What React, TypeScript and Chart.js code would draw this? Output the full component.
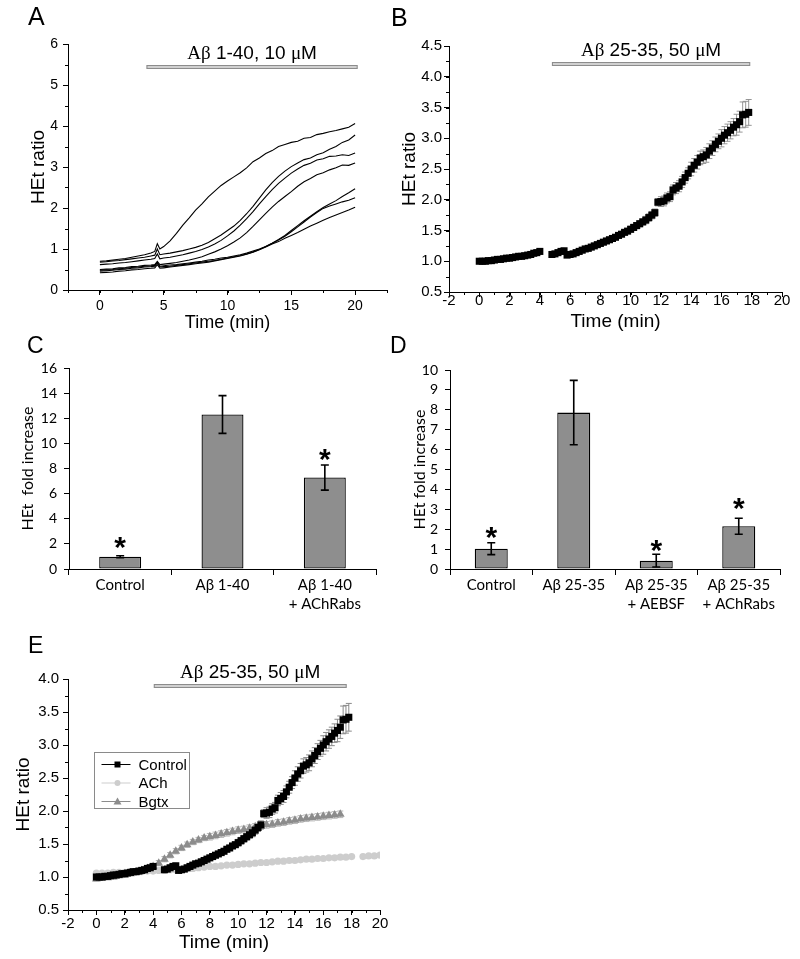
import React, { useEffect, useRef } from 'react';
import { Chart, registerables } from 'chart.js';

Chart.register(...registerables);

const SANS = '"Liberation Sans", Arial, sans-serif';
const SERIF = '"Liberation Serif", "Times New Roman", serif';
const CAL = 'Lato, "Liberation Sans", sans-serif';
Chart.defaults.font.family = SANS;
Chart.defaults.color = '#000';

// ---------------- Panel A data ----------------
const tA = [0, 0.5, 1, 1.5, 2, 2.5, 3, 3.5, 4, 4.3, 4.5, 4.7, 5, 5.5, 6, 6.5, 7, 7.5, 8, 8.5, 9, 9.5, 10, 10.5, 11, 11.5, 12, 12.5, 13, 13.5, 14, 14.5, 15, 15.5, 16, 16.5, 17, 17.5, 18, 18.5, 19, 19.5, 20];
const a1 = [0.70, 0.71, 0.73, 0.75, 0.77, 0.80, 0.83, 0.86, 0.90, 0.94, 1.13, 1.00, 1.06, 1.20, 1.38, 1.58, 1.76, 1.95, 2.10, 2.27, 2.41, 2.55, 2.66, 2.76, 2.86, 2.98, 3.13, 3.22, 3.33, 3.40, 3.50, 3.55, 3.60, 3.63, 3.70, 3.72, 3.79, 3.82, 3.86, 3.89, 3.93, 3.97, 4.06];
const a2 = [0.68, 0.69, 0.71, 0.72, 0.74, 0.76, 0.78, 0.80, 0.83, 0.85, 1.00, 0.86, 0.88, 0.90, 0.93, 0.96, 1.00, 1.04, 1.09, 1.16, 1.25, 1.34, 1.45, 1.56, 1.70, 1.86, 2.04, 2.24, 2.44, 2.62, 2.77, 2.90, 3.01, 3.10, 3.18, 3.22, 3.30, 3.35, 3.43, 3.50, 3.60, 3.66, 3.78];
const a3 = [0.62, 0.63, 0.64, 0.66, 0.67, 0.69, 0.71, 0.73, 0.75, 0.77, 0.88, 0.76, 0.78, 0.80, 0.83, 0.86, 0.90, 0.94, 0.99, 1.05, 1.12, 1.21, 1.32, 1.44, 1.58, 1.74, 1.91, 2.10, 2.28, 2.45, 2.60, 2.73, 2.85, 2.95, 3.04, 3.09, 3.17, 3.20, 3.26, 3.27, 3.30, 3.28, 3.34];
const a4 = [0.50, 0.51, 0.52, 0.54, 0.55, 0.57, 0.58, 0.60, 0.61, 0.62, 0.70, 0.62, 0.63, 0.65, 0.67, 0.70, 0.73, 0.77, 0.81, 0.87, 0.93, 1.00, 1.08, 1.17, 1.27, 1.40, 1.55, 1.71, 1.87, 2.02, 2.16, 2.28, 2.40, 2.53, 2.64, 2.72, 2.81, 2.86, 2.93, 2.98, 3.05, 3.04, 3.10];
const a5 = [0.48, 0.49, 0.50, 0.52, 0.53, 0.55, 0.56, 0.58, 0.59, 0.60, 0.68, 0.58, 0.59, 0.61, 0.62, 0.64, 0.66, 0.68, 0.70, 0.73, 0.75, 0.78, 0.80, 0.83, 0.86, 0.90, 0.95, 1.00, 1.06, 1.14, 1.23, 1.33, 1.45, 1.57, 1.69, 1.80, 1.91, 2.01, 2.10, 2.18, 2.28, 2.37, 2.47];
const a6 = [0.46, 0.47, 0.48, 0.50, 0.51, 0.53, 0.54, 0.56, 0.57, 0.58, 0.66, 0.56, 0.57, 0.58, 0.60, 0.62, 0.64, 0.66, 0.68, 0.70, 0.72, 0.75, 0.78, 0.81, 0.84, 0.88, 0.93, 0.99, 1.06, 1.14, 1.22, 1.31, 1.42, 1.54, 1.66, 1.78, 1.89, 1.99, 2.05, 2.10, 2.15, 2.19, 2.25];
const a7 = [0.42, 0.43, 0.44, 0.46, 0.47, 0.49, 0.50, 0.52, 0.53, 0.54, 0.62, 0.53, 0.54, 0.56, 0.58, 0.60, 0.62, 0.64, 0.66, 0.68, 0.71, 0.74, 0.77, 0.80, 0.83, 0.87, 0.92, 0.98, 1.05, 1.12, 1.18, 1.26, 1.33, 1.40, 1.48, 1.56, 1.63, 1.70, 1.77, 1.83, 1.89, 1.95, 2.02];
const seriesA = [a1, a2, a3, a4, a5, a6, a7];
const ticksAX = [0, 5, 10, 15, 20];
const ticksAY = [0, 1, 2, 3, 4, 5, 6];

// ---------------- Panel B / E control data ----------------
const tB = [0, 0.2, 0.4, 0.6, 0.8, 1, 1.2, 1.4, 1.6, 1.8, 2, 2.2, 2.4, 2.6, 2.8, 3, 3.2, 3.4, 3.6, 3.8, 4,
  4.8, 5, 5.2, 5.4, 5.6,
  5.8, 6, 6.2, 6.4, 6.6, 6.8, 7, 7.2, 7.4, 7.6, 7.8, 8, 8.2, 8.4, 8.6, 8.8, 9, 9.2, 9.4, 9.6, 9.8, 10, 10.2, 10.4, 10.6, 10.8, 11, 11.2, 11.4, 11.6, 11.8, 12, 12.2, 12.4, 12.6, 12.8, 13, 13.2, 13.4, 13.6, 13.8, 14, 14.2, 14.4, 14.6, 14.8, 15, 15.2, 15.4, 15.6, 15.8, 16, 16.2, 16.4, 16.6, 16.8, 17, 17.2, 17.4, 17.6, 17.8];
const hB = [1.00, 1.00, 1.00, 1.01, 1.01, 1.02, 1.03, 1.03, 1.04, 1.05, 1.05, 1.06, 1.07, 1.08, 1.08, 1.09, 1.10, 1.11, 1.13, 1.14, 1.16,
  1.11, 1.12, 1.14, 1.16, 1.17,
  1.10, 1.11, 1.12, 1.14, 1.16, 1.18, 1.20, 1.21, 1.23, 1.25,
  1.27, 1.29, 1.31, 1.33, 1.35, 1.37, 1.39, 1.42, 1.44, 1.47,
  1.49, 1.52, 1.55, 1.58, 1.61, 1.64, 1.67, 1.71, 1.75, 1.79,
  1.96, 1.97, 1.98, 2.03, 2.05, 2.16, 2.19, 2.22, 2.29, 2.36,
  2.43, 2.50, 2.56, 2.61, 2.68, 2.70, 2.73, 2.79, 2.84, 2.90,
  2.95, 3.00, 3.05, 3.09, 3.13, 3.18, 3.22, 3.27, 3.38, 3.39,
  3.42];
const eB = [0.01, 0.01, 0.01, 0.01, 0.01, 0.01, 0.01, 0.01, 0.01, 0.01, 0.01, 0.01, 0.01, 0.01, 0.01, 0.01, 0.01, 0.01, 0.01, 0.01, 0.01,
  0.02, 0.02, 0.02, 0.02, 0.02,
  0.02, 0.02, 0.02, 0.02, 0.02, 0.02, 0.02, 0.02, 0.02, 0.02, 0.02,
  0.03, 0.03, 0.03, 0.03, 0.03, 0.03, 0.03, 0.03, 0.03, 0.03,
  0.05, 0.05, 0.05, 0.05, 0.05,
  0.06, 0.06, 0.06, 0.06, 0.06,
  0.08, 0.08, 0.08, 0.08, 0.08,
  0.09, 0.09, 0.09, 0.09, 0.09,
  0.11, 0.11, 0.11, 0.11, 0.11,
  0.12, 0.12, 0.12, 0.12, 0.12,
  0.14, 0.14, 0.14, 0.14, 0.14,
  0.17, 0.17,
  0.21, 0.21, 0.21];
const ticksTimeX = [-2, 0, 2, 4, 6, 8, 10, 12, 14, 16, 18, 20];
const ticksBY = [0.5, 1.0, 1.5, 2.0, 2.5, 3.0, 3.5, 4.0, 4.5];

// ---------------- Panel C data ----------------
const catsC = ['Control', 'Aβ 1-40', ['Aβ 1-40', '+ AChRabs']];
const valsC = [0.98, 12.3, 7.28];
const errC = [0.08, 1.5, 1.0];
const starsC = [2.05, null, 9.07];
const ticksCY = [0, 2, 4, 6, 8, 10, 12, 14, 16];

// ---------------- Panel D data ----------------
const catsD = ['Control', 'Aβ 25-35', ['Aβ 25-35', '+ AEBSF'], ['Aβ 25-35', '+ AChRabs']];
const valsD = [1.02, 7.86, 0.42, 2.15];
const errD = [0.3, 1.62, 0.32, 0.4];
const starsD = [1.8, null, 1.18, 3.25];
const ticksDY = [0, 1, 2, 3, 4, 5, 6, 7, 8, 9, 10];

// ---------------- Panel E data ----------------
const tAch = [0, 0.4, 0.8, 1.2, 1.6, 2, 2.4, 2.8, 3.2, 3.6, 4, 4.4, 4.8, 5.2, 5.6, 6, 6.4, 6.8, 7.2, 7.6, 8, 8.4, 8.8, 9.2, 9.6, 10, 10.4, 10.8, 11.2, 11.6, 12, 12.4, 12.8, 13.2, 13.6, 14, 14.4, 14.8, 15.2, 15.6, 16, 16.4, 16.8, 17.2, 17.6, 18, 18.8, 19.2, 19.6, 20];
const hAch = [1.06, 1.06, 1.06, 1.07, 1.07, 1.07, 1.08, 1.08, 1.08, 1.09,
  1.09, 1.10, 1.10, 1.11, 1.11, 1.12, 1.13, 1.13, 1.14, 1.15,
  1.16, 1.16, 1.17, 1.18, 1.18, 1.19, 1.20, 1.20, 1.21, 1.22,
  1.22, 1.23, 1.24, 1.24, 1.25, 1.25, 1.26, 1.27, 1.27, 1.28,
  1.28, 1.29, 1.29, 1.30, 1.30, 1.31, 1.31, 1.32, 1.32, 1.33];
const tBg = [0, 0.4, 0.8, 1.2, 1.6, 2, 2.4, 2.8, 3.2, 3.6, 4, 4.4, 4.8, 5.2, 5.6, 6, 6.4, 6.8, 7.2, 7.6, 8, 8.4, 8.8, 9.2, 9.6, 10, 10.4, 10.8, 11.2, 11.6, 12, 12.4, 12.8, 13.2, 13.6, 14, 14.4, 14.8, 15.2, 15.6, 16, 16.4, 16.8, 17.2];
const hBg = [0.97, 0.98, 0.99, 1.00, 1.02, 1.03, 1.05, 1.07, 1.10, 1.13,
  1.16, 1.21, 1.27, 1.33, 1.39, 1.44, 1.49, 1.53, 1.56, 1.59,
  1.61, 1.63, 1.65, 1.67, 1.69, 1.71, 1.72, 1.74, 1.76, 1.77,
  1.79, 1.80, 1.82, 1.83, 1.85, 1.86, 1.88, 1.89, 1.90, 1.91,
  1.92, 1.93, 1.94, 1.95];
const eBg = [0.03, 0.03, 0.03, 0.03, 0.03, 0.03, 0.03, 0.03, 0.03, 0.03,
  0.04, 0.04, 0.04, 0.04, 0.04, 0.04, 0.04, 0.04, 0.04, 0.04,
  0.05, 0.05, 0.05, 0.05, 0.05, 0.05, 0.05, 0.05, 0.05, 0.05,
  0.05, 0.05, 0.05, 0.05, 0.05, 0.05, 0.05, 0.05, 0.05, 0.05,
  0.05, 0.05, 0.05, 0.05];
const ticksEY = [0.5, 1.0, 1.5, 2.0, 2.5, 3.0, 3.5, 4.0];
const legendE = ['Control', 'ACh', 'Bgtx'];

// drug application bars: [from, to, level]
const drugA = [3.65, 20.2, 5.44];
const drugB = [4.8, 17.9, 4.21];
const drugE = [4.05, 17.65, 3.89];

// ---------------- plugins ----------------
const minorTicksPlugin = {
  id: 'minorTicks',
  afterDraw(chart: any, _a: any, o: any) {
    const { ctx, chartArea } = chart;
    ctx.save();
    ctx.strokeStyle = '#000';
    ctx.lineWidth = 1;
    const draw = (axis: string, step: number) => {
      const s = chart.scales[axis];
      const n = Math.round((s.max - s.min) / step);
      for (let k = 0; k <= n; k++) {
        const v = s.min + k * step;
        const p = Math.round(s.getPixelForValue(v)) + 0.5;
        ctx.beginPath();
        if (axis === 'x') {
          ctx.moveTo(p, chartArea.bottom);
          ctx.lineTo(p, chartArea.bottom + o.len);
        } else {
          ctx.moveTo(chartArea.left - o.len, p);
          ctx.lineTo(chartArea.left, p);
        }
        ctx.stroke();
      }
    };
    if (o.x) draw('x', o.x);
    if (o.y) draw('y', o.y);
    ctx.restore();
  },
};

const drugBarPlugin = {
  id: 'drugBar',
  afterDraw(chart: any, _a: any, o: any) {
    if (!o || !o.parts) return;
    const { ctx } = chart;
    const xs = chart.scales.x;
    const ys = chart.scales.y;
    const x0 = xs.getPixelForValue(o.from);
    const x1 = xs.getPixelForValue(o.to);
    const yc = Math.round(ys.getPixelForValue(o.at));
    ctx.save();
    ctx.fillStyle = '#d0d0d0';
    ctx.fillRect(x0, yc - 2, x1 - x0, 4);
    ctx.strokeStyle = '#8c8c8c';
    ctx.lineWidth = 1;
    ctx.strokeRect(x0 + 0.5, yc - 1.5, x1 - x0 - 1, 3);
    const parts: any[] = [];
    for (let k = 0; k < o.parts.length; k++) parts.push({ t: o.parts[k].t, f: o.parts[k].f });
    let total = 0;
    const widths = parts.map((p) => {
      ctx.font = p.f;
      const w = ctx.measureText(p.t).width;
      total += w;
      return w;
    });
    let x = (x0 + x1) / 2 - total / 2;
    ctx.fillStyle = '#000';
    ctx.textAlign = 'left';
    ctx.textBaseline = 'alphabetic';
    parts.forEach((p, k) => {
      ctx.font = p.f;
      ctx.fillText(p.t, x, yc - o.gap);
      x += widths[k];
    });
    ctx.restore();
  },
};

function drawErrors(chart: any, o: any) {
  const { ctx } = chart;
  const ys = chart.scales.y;
  chart.data.datasets.forEach((ds: any, i: number) => {
    const errs = ds.errors;
    if (!errs) return;
    const meta = chart.getDatasetMeta(i);
    ctx.save();
    ctx.strokeStyle = ds.errorColor || o.color;
    ctx.lineWidth = o.width;
    meta.data.forEach((el: any, j: number) => {
      const e = errs[j];
      const raw = ds.data[j];
      const v = typeof raw === 'number' ? raw : raw && raw.y;
      if (e == null || v == null) return;
      const x = el.x;
      const top = ys.getPixelForValue(v + e);
      const bot = ys.getPixelForValue(v - e);
      ctx.beginPath();
      ctx.moveTo(x, top);
      ctx.lineTo(x, bot);
      ctx.moveTo(x - o.cap, top);
      ctx.lineTo(x + o.cap, top);
      ctx.moveTo(x - o.cap, bot);
      ctx.lineTo(x + o.cap, bot);
      ctx.stroke();
    });
    ctx.restore();
  });
}

const errorBarsPlugin = {
  id: 'errorBars',
  beforeDatasetsDraw(chart: any, _a: any, o: any) {
    if (o && o.width && !o.front) drawErrors(chart, o);
  },
  afterDatasetsDraw(chart: any, _a: any, o: any) {
    if (o && o.width && o.front) drawErrors(chart, o);
  },
};

const starsPlugin = {
  id: 'stars',
  afterDatasetsDraw(chart: any, _a: any, o: any) {
    if (!o || !o.values) return;
    const { ctx } = chart;
    const meta = chart.getDatasetMeta(0);
    const ys = chart.scales.y;
    ctx.save();
    ctx.font = o.font;
    ctx.fillStyle = '#000';
    ctx.textAlign = 'center';
    ctx.textBaseline = 'alphabetic';
    for (let j = 0; j < o.values.length; j++) {
      const v = o.values[j];
      if (v == null) continue;
      const px = meta.data[j].x;
      const py = ys.getPixelForValue(v);
      ctx.fillText('*', px, py + o.shift);
    }
    ctx.restore();
  },
};

const boxLegendPlugin = {
  id: 'boxLegend',
  afterDraw(chart: any, _a: any, o: any) {
    if (!o || !o.w) return;
    const { ctx, chartArea } = chart;
    const x0 = Math.round(chartArea.left + o.dx) + 0.5;
    const y0 = Math.round(chartArea.top + o.dy) + 0.5;
    ctx.save();
    ctx.fillStyle = '#fff';
    ctx.fillRect(x0, y0, o.w, o.h);
    ctx.strokeStyle = '#8a8a8a';
    ctx.lineWidth = 1;
    ctx.strokeRect(x0, y0, o.w, o.h);
    const order = [0, 2, 1];
    order.forEach((di, k) => {
      const ds = chart.data.datasets[di];
      const cy = y0 + o.first + k * o.gap;
      ctx.strokeStyle = ds.borderColor;
      ctx.lineWidth = 1;
      ctx.beginPath();
      ctx.moveTo(x0 + 7, cy);
      ctx.lineTo(x0 + 36, cy);
      ctx.stroke();
      ctx.fillStyle = ds.backgroundColor;
      const mx = x0 + 23;
      ctx.beginPath();
      if (ds.pointStyle === 'rect') {
        ctx.rect(mx - 3, cy - 3, 6, 6);
      } else if (ds.pointStyle === 'circle') {
        ctx.arc(mx, cy, 3, 0, Math.PI * 2);
      } else {
        ctx.moveTo(mx, cy - 4);
        ctx.lineTo(mx + 4, cy + 3);
        ctx.lineTo(mx - 4, cy + 3);
        ctx.closePath();
      }
      ctx.fill();
      ctx.fillStyle = '#000';
      ctx.font = o.font;
      ctx.textAlign = 'left';
      ctx.textBaseline = 'middle';
      ctx.fillText(ds.label, x0 + 44, cy + 1);
    });
    ctx.restore();
  },
};

// ---------------- axis helpers ----------------
function numAxis(o: any) {
  return {
    type: 'linear',
    min: o.min,
    max: o.max,
    afterBuildTicks: (s: any) => {
      s.ticks = o.ticks.map((v: number) => ({ value: v }));
    },
    afterFit: (s: any) => {
      if (o.horizontal) s.height = o.fit;
      else s.width = o.fit;
    },
    grid: { display: true, drawOnChartArea: false, drawTicks: true, tickLength: o.tickLen ?? 5, color: '#000', lineWidth: 1 },
    border: { display: true, color: '#000', width: 1 },
    ticks: {
      font: { size: o.size, family: o.family ?? SANS },
      color: '#000',
      padding: o.tickPad,
      autoSkip: false,
      maxRotation: 0,
      callback: (v: any) => (o.fmt ? o.fmt(Number(v)) : String(v)),
    },
    title: {
      display: true,
      text: o.title,
      font: { size: o.titleSize, family: o.family ?? SANS },
      color: '#000',
      padding: o.titlePad,
    },
  };
}

function catAxis(fit: number) {
  return {
    type: 'category',
    offset: true,
    afterFit: (s: any) => {
      s.height = fit;
    },
    grid: { display: true, offset: true, drawOnChartArea: false, drawTicks: true, tickLength: 6, color: '#000', lineWidth: 1 },
    border: { display: true, color: '#000', width: 1 },
    ticks: { font: { size: 15, family: CAL, lineHeight: 1.27 }, color: '#000', padding: 1, autoSkip: false, maxRotation: 0 },
  };
}

const fmt1 = (v: number) => v.toFixed(1);
const baseOpts = {
  responsive: false,
  animation: false,
  events: [] as string[],
};

function drugParts(range: string) {
  return [
    { t: 'Aβ', f: `19px ${SERIF}` },
    { t: ` ${range} `, f: `19px ${SANS}` },
    { t: 'μ', f: `19px ${SERIF}` },
    { t: 'M', f: `19px ${SANS}` },
  ];
}

// ---------------- configs ----------------
function makeA(): any {
  return {
    type: 'scatter',
    data: {
      datasets: seriesA.map((s) => ({
        data: tA.map((t, i) => ({ x: t, y: s[i] })),
        showLine: true,
        borderColor: '#000',
        borderWidth: 1.1,
        pointRadius: 0,
        tension: 0,
      })),
    },
    options: {
      ...baseOpts,
      layout: { padding: { left: 0, top: 44, right: 13, bottom: 0 } },
      plugins: {
        legend: { display: false },
        tooltip: { enabled: false },
        minorTicks: { x: 2.5, y: 0.5, len: 3 },
        drugBar: { from: drugA[0], to: drugA[1], at: drugA[2], gap: 8, parts: drugParts('1-40, 10') },
      },
      scales: {
        x: numAxis({ min: -2.5, max: 22.5, ticks: ticksAX, size: 14, fit: 50, horizontal: true, title: 'Time (min)', titleSize: 18, titlePad: { top: 0, bottom: 6.2 }, tickPad: 3 }),
        y: numAxis({ min: 0, max: 6, ticks: ticksAY, size: 14, fit: 68, horizontal: false, title: 'HEt ratio', titleSize: 19, titlePad: { top: 27, bottom: 0 }, tickPad: 5 }),
      },
    },
    plugins: [minorTicksPlugin, drugBarPlugin],
  };
}

function makeB(): any {
  return {
    type: 'scatter',
    data: {
      datasets: [
        {
          data: tB.map((t, i) => ({ x: t, y: hB[i] })),
          errors: eB,
          pointStyle: 'rect',
          pointRadius: 5,
          backgroundColor: '#000',
          borderColor: '#000',
          borderWidth: 0,
        },
      ],
    },
    options: {
      ...baseOpts,
      layout: { padding: { left: 0, top: 46, right: 18, bottom: 0 } },
      plugins: {
        legend: { display: false },
        tooltip: { enabled: false },
        minorTicks: { x: 1, y: 0.25, len: 3 },
        errorBars: { width: 0.9, cap: 3, color: '#8a8a8a', front: false },
        drugBar: { from: drugB[0], to: drugB[1], at: drugB[2], gap: 8, parts: drugParts('25-35, 50') },
      },
      scales: {
        x: numAxis({ min: -2, max: 20, ticks: ticksTimeX, size: 15, fit: 48, horizontal: true, title: 'Time (min)', titleSize: 19, titlePad: { top: 0, bottom: 6.6 }, tickPad: -5 }),
        y: numAxis({ min: 0.5, max: 4.5, ticks: ticksBY, size: 15, fit: 59, horizontal: false, title: 'HEt ratio', titleSize: 19, titlePad: { top: 8.6, bottom: 0 }, tickPad: 2, fmt: fmt1 }),
      },
    },
    plugins: [minorTicksPlugin, errorBarsPlugin, drugBarPlugin],
  };
}

function makeBars(cats: any[], vals: number[], errs: number[], stars: any[], yTicks: number[], yMax: number, pad: any, title: string, titlePadTop: number, yFit: number, barPct: number): any {
  return {
    type: 'bar',
    data: {
      labels: cats,
      datasets: [
        {
          data: vals,
          errors: errs,
          backgroundColor: '#8e8e8e',
          borderColor: '#000',
          borderWidth: 1.3,
          borderSkipped: false,
          barPercentage: barPct,
          categoryPercentage: 1,
        },
      ],
    },
    options: {
      ...baseOpts,
      layout: { padding: pad },
      plugins: {
        legend: { display: false },
        tooltip: { enabled: false },
        errorBars: { width: 1.6, cap: 4, color: '#000', front: true },
        stars: { values: stars, font: `bold 30px ${SANS}`, shift: 14 },
      },
      scales: {
        x: catAxis(51),
        y: numAxis({ min: 0, max: yMax, ticks: yTicks, size: 14, fit: yFit, horizontal: false, title, titleSize: 16, titlePad: { top: titlePadTop, bottom: 0 }, tickPad: 7, family: CAL }),
      },
    },
    plugins: [errorBarsPlugin, starsPlugin],
  };
}

function makeC(): any {
  return makeBars(catsC, valsC, errC, starsC, ticksCY, 16, { left: 0, top: 28, right: 24, bottom: 0 }, 'HEt  fold increase', 18.4, 69, 0.41);
}

function makeD(): any {
  return makeBars(catsD, valsD, errD, starsD, ticksDY, 10, { left: 0, top: 30, right: 20, bottom: 0 }, 'HEt fold increase', 10.4, 50, 0.4);
}

function makeE(): any {
  return {
    type: 'scatter',
    data: {
      datasets: [
        {
          label: legendE[0],
          data: tB.map((t, i) => ({ x: t, y: hB[i] })),
          errors: eB,
          errorColor: '#8a8a8a',
          pointStyle: 'rect',
          pointRadius: 5,
          backgroundColor: '#000',
          borderColor: '#000',
          borderWidth: 0,
        },
        {
          label: legendE[2],
          data: tBg.map((t, i) => ({ x: t, y: hBg[i] })),
          errors: eBg,
          errorColor: '#b8b8b8',
          pointStyle: 'triangle',
          pointRadius: 5,
          backgroundColor: '#8c8c8c',
          borderColor: '#8c8c8c',
          borderWidth: 0,
        },
        {
          label: legendE[1],
          data: tAch.map((t, i) => ({ x: t, y: hAch[i] })),
          pointStyle: 'circle',
          pointRadius: 3.6,
          backgroundColor: '#cdcdcd',
          borderColor: '#cdcdcd',
          borderWidth: 0,
        },
      ],
    },
    options: {
      ...baseOpts,
      layout: { padding: { left: 0, top: 59, right: 20, bottom: 0 } },
      plugins: {
        legend: { display: false },
        tooltip: { enabled: false },
        minorTicks: { x: 1, y: 0.25, len: 3 },
        errorBars: { width: 1, cap: 3, color: '#8a8a8a', front: false },
        drugBar: { from: drugE[0], to: drugE[1], at: drugE[2], gap: 8, parts: drugParts('25-35, 50') },
        boxLegend: { dx: 26, dy: 73, w: 95, h: 56, first: 12, gap: 18.5, font: `15px ${SANS}` },
      },
      scales: {
        x: numAxis({ min: -2, max: 20, ticks: ticksTimeX, size: 15, fit: 49, horizontal: true, title: 'Time (min)', titleSize: 19, titlePad: { top: 0, bottom: 4.6 }, tickPad: 0 }),
        y: numAxis({ min: 0.5, max: 4.0, ticks: ticksEY, size: 15, fit: 68, horizontal: false, title: 'HEt ratio', titleSize: 19, titlePad: { top: 12, bottom: 0 }, tickPad: 4, fmt: fmt1 }),
      },
    },
    plugins: [minorTicksPlugin, errorBarsPlugin, drugBarPlugin, boxLegendPlugin],
  };
}

// ---------------- components ----------------
function ChartBox(props: { left: number; top: number; width: number; height: number; make: () => any }) {
  const ref = useRef<HTMLCanvasElement>(null);
  useEffect(() => {
    const chart = new Chart(ref.current as HTMLCanvasElement, props.make());
    return () => chart.destroy();
  }, []);
  return (
    <canvas
      ref={ref}
      width={props.width}
      height={props.height}
      style={{ position: 'absolute', left: props.left, top: props.top, width: props.width, height: props.height }}
    />
  );
}

function Letter(props: { text: string; left: number; top: number; size: number }) {
  return (
    <div
      style={{
        position: 'absolute',
        left: props.left,
        top: props.top,
        fontFamily: SANS,
        fontSize: props.size,
        lineHeight: 1,
        color: '#000',
      }}
    >
      {props.text}
    </div>
  );
}

export default function App() {
  return (
    <div style={{ position: 'absolute', left: 0, top: 0, width: 800, height: 959, background: '#fff', overflow: 'hidden' }}>
      <ChartBox left={0} top={0} width={400} height={340} make={makeA} />
      <ChartBox left={390} top={0} width={410} height={340} make={makeB} />
      <ChartBox left={0} top={340} width={400} height={280} make={makeC} />
      <ChartBox left={400} top={340} width={400} height={280} make={makeD} />
      <ChartBox left={0} top={620} width={400} height={339} make={makeE} />
      <Letter text="A" left={28} top={4} size={25} />
      <Letter text="B" left={391} top={5} size={25} />
      <Letter text="C" left={27} top={334} size={23} />
      <Letter text="D" left={390} top={334} size={23} />
      <Letter text="E" left={28} top={634} size={23} />
    </div>
  );
}
